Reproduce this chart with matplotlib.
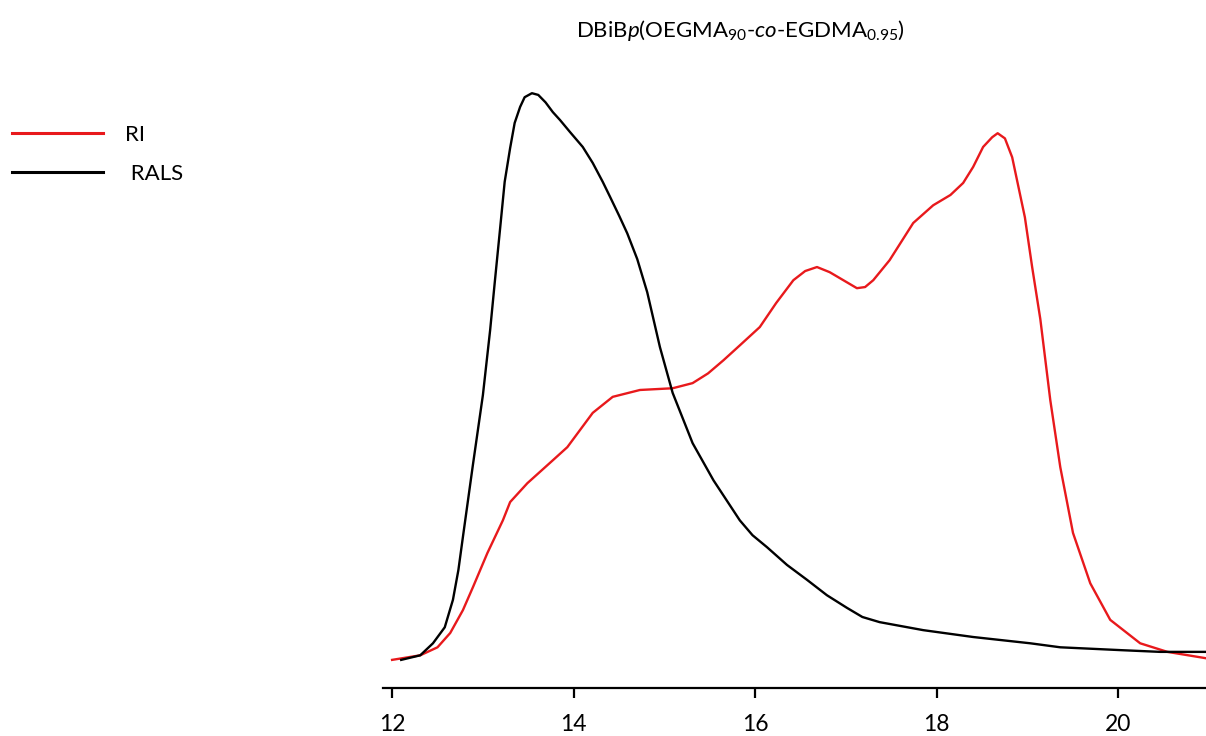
import numpy as np
import matplotlib.pyplot as plt

plt.rcParams['font.family'] = ['Lato', 'DejaVu Sans']
plt.rcParams['mathtext.fontset'] = 'custom'
plt.rcParams['mathtext.rm'] = 'Lato'
plt.rcParams['mathtext.it'] = 'Lato:italic'

# RI trace (elution volume, normalised signal)
ri_x = [12.00, 12.31, 12.50, 12.64, 12.78, 12.89, 13.05, 13.22, 13.30, 13.49,
        13.77, 13.93, 14.21, 14.43, 14.73, 15.09, 15.31, 15.48, 15.65, 15.83,
        16.05, 16.23, 16.42, 16.55, 16.68, 16.82, 16.97, 17.12, 17.21, 17.30,
        17.48, 17.74, 17.96, 18.15, 18.29, 18.40, 18.51, 18.61, 18.67, 18.75,
        18.83, 18.89, 18.97, 19.05, 19.14, 19.25, 19.36, 19.50, 19.69, 19.91,
        20.24, 20.54, 20.96]
ri_y = [0.009, 0.017, 0.031, 0.056, 0.096, 0.136, 0.196, 0.253, 0.285, 0.318,
        0.358, 0.381, 0.441, 0.469, 0.481, 0.484, 0.493, 0.510, 0.533, 0.559,
        0.591, 0.633, 0.673, 0.689, 0.696, 0.687, 0.673, 0.659, 0.661, 0.673,
        0.708, 0.773, 0.804, 0.822, 0.843, 0.871, 0.906, 0.923, 0.930, 0.921,
        0.888, 0.843, 0.783, 0.696, 0.605, 0.463, 0.346, 0.231, 0.143, 0.079,
        0.038, 0.023, 0.012]

# RALS trace
rals_x = [12.10, 12.31, 12.45, 12.58, 12.67, 12.73, 12.78, 12.89, 13.00, 13.08,
          13.13, 13.19, 13.24, 13.30, 13.35, 13.41, 13.46, 13.54, 13.61, 13.69,
          13.77, 13.85, 13.96, 14.10, 14.21, 14.32, 14.40, 14.50, 14.59, 14.70,
          14.81, 14.95, 15.09, 15.31, 15.54, 15.83, 15.97, 16.13, 16.35, 16.57,
          16.79, 17.01, 17.18, 17.37, 17.85, 18.40, 19.03, 19.36, 20.03, 20.46,
          20.96]
rals_y = [0.009, 0.017, 0.038, 0.066, 0.114, 0.166, 0.224, 0.350, 0.472, 0.586,
          0.668, 0.764, 0.845, 0.904, 0.948, 0.976, 0.993, 1.000, 0.997, 0.984,
          0.967, 0.953, 0.932, 0.906, 0.878, 0.845, 0.819, 0.786, 0.755, 0.710,
          0.652, 0.556, 0.476, 0.388, 0.323, 0.253, 0.227, 0.206, 0.175, 0.149,
          0.122, 0.100, 0.084, 0.075, 0.061, 0.049, 0.038, 0.031, 0.026, 0.023,
          0.023]

xticks = [12, 14, 16, 18, 20]

fig = plt.figure(figsize=(12.06, 7.36), dpi=100)
ax = fig.add_axes([0.3176, 0.0652, 0.6824, 0.853])

ax.plot(ri_x, ri_y, color='#e8191c', lw=1.7, label='RI', solid_joinstyle='round')
ax.plot(rals_x, rals_y, color='black', lw=1.7, label=' RALS', solid_joinstyle='round')

ax.set_xlim(11.90, 20.965)
ax.set_ylim(-0.0402, 1.0577)
ax.set_xticks(xticks)
ax.set_yticks([])
for s in ['top', 'right', 'left']:
    ax.spines[s].set_visible(False)
ax.spines['bottom'].set_linewidth(1.6)
ax.tick_params(axis='x', length=7, width=1.6, labelsize=16.5, pad=12)

fig.text(0.614, 0.959, r'DBiB$\mathit{p}$(OEGMA$_{90}$-$\mathit{co}$-EGDMA$_{0.95}$)',
         ha='center', va='center', fontsize=16)

ax.legend(loc='upper left', bbox_to_anchor=(0.01, 0.83), bbox_transform=fig.transFigure,
          frameon=False, fontsize=16, handlelength=4.1, handletextpad=1.0,
          labelspacing=0.85, borderpad=0, borderaxespad=0)
leg = ax.get_legend()
for l in leg.get_lines():
    l.set_linewidth(2.2)

fig.savefig('out.png', dpi=100)
